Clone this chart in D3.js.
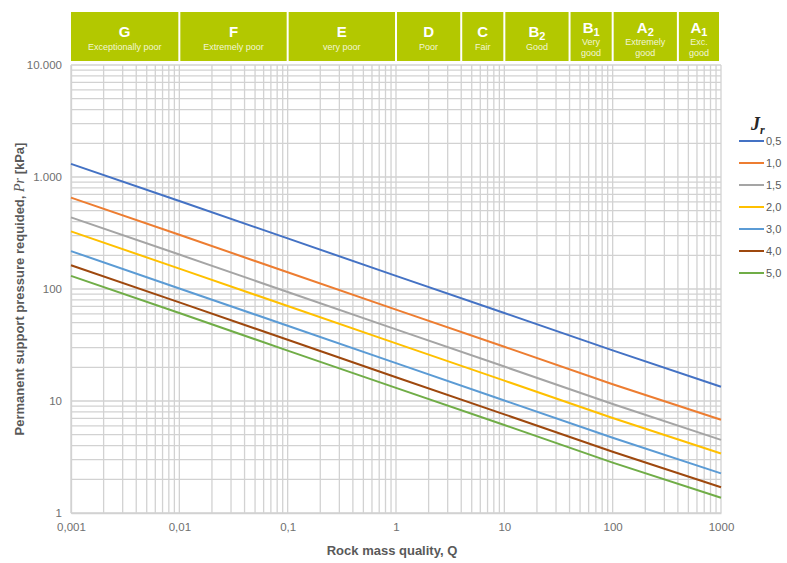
<!DOCTYPE html>
<html><head><meta charset="utf-8">
<script src="https://cdn.jsdelivr.net/npm/d3@7"></script>
<style>body{margin:0;background:#fff}svg{display:block;font-family:"Liberation Sans",Arial,sans-serif}</style>
</head><body><svg id="c" width="787" height="563"></svg>
<script>
// ---- data ----
const qPoints = [0.001, 0.01, 0.1, 1, 10, 100, 1000];
const jrLabels = ["0,5", "1,0", "1,5", "2,0", "3,0", "4,0", "5,0"];
const jr05 = [1310, 610, 283, 131, 61, 28.3, 13.4];
const jr10 = [655, 305, 141, 65.5, 30.5, 14.1, 6.8];
const jr15 = [436, 203, 94, 43.6, 20.3, 9.4, 4.5];
const jr20 = [327, 152, 70.5, 32.7, 15.2, 7.05, 3.4];
const jr30 = [218, 101, 47, 21.8, 10.1, 4.7, 2.26];
const jr40 = [163, 76, 35.2, 16.3, 7.6, 3.52, 1.7];
const jr50 = [131, 61, 28.2, 13.1, 6.1, 2.82, 1.37];
const seriesValues = [jr05, jr10, jr15, jr20, jr30, jr40, jr50];
const seriesColors = ["#4472c4", "#ed7d31", "#a5a5a5", "#ffc000", "#5b9bd5", "#9e480e", "#70ad47"];
const xTickValues = [0.001, 0.01, 0.1, 1, 10, 100, 1000];
const xTickLabels = ["0,001", "0,01", "0,1", "1", "10", "100", "1000"];
const yTickValues = [1, 10, 100, 1000, 10000];
const yTickLabels = ["1", "10", "100", "1.000", "10.000"];
const classBounds = [0.001, 0.01, 0.1, 1, 4, 10, 40, 100, 400, 1000];
const classLetters = ["G", "F", "E", "D", "C", "B", "B", "A", "A"];
const classSubs = ["", "", "", "", "", "2", "1", "2", "1"];
const classNames = [["Exceptionally poor"], ["Extremely poor"], ["very poor"], ["Poor"], ["Fair"], ["Good"], ["Very", "good"], ["Extremely", "good"], ["Exc.", "good"]];

// ---- layout ----
const svg = d3.select("#c");
const x = d3.scaleLog().domain([0.001, 1000]).range([71, 721]);
const y = d3.scaleLog().domain([1, 10000]).range([513, 65]);
const gridColor = "#d2d2d2";
const tickColor = "#6f6f6f";
const textColor = "#595959";

// grid
const g = svg.append("g");
const minorX = [];
for (let e = -3; e < 3; e++) for (let m = 1; m < 10; m++) minorX.push(m * Math.pow(10, e));
minorX.push(1000);
const minorY = [];
for (let e = 0; e < 4; e++) for (let m = 1; m < 10; m++) minorY.push(m * Math.pow(10, e));
minorY.push(10000);
g.selectAll("line.vx").data(minorX).join("line")
  .attr("x1", d => x(d)).attr("x2", d => x(d)).attr("y1", y(10000)).attr("y2", y(1))
  .attr("stroke", gridColor).attr("stroke-width", 1.3);
g.selectAll("line.hy").data(minorY).join("line")
  .attr("y1", d => y(d)).attr("y2", d => y(d)).attr("x1", x(0.001)).attr("x2", x(1000))
  .attr("stroke", gridColor).attr("stroke-width", 1.3);

// axes labels
const xAxis = d3.axisBottom(x).tickValues(xTickValues).tickSize(0).tickPadding(10)
  .tickFormat((d, i) => xTickLabels[i]);
const xg = svg.append("g").attr("transform", `translate(0,${y(1)})`).call(xAxis);
xg.select(".domain").attr("stroke", gridColor).attr("stroke-width", 1.3);
xg.selectAll("text").attr("fill", tickColor).attr("font-size", 11.5).attr("font-family", "Liberation Sans, Arial, sans-serif");
const yAxis = d3.axisLeft(y).tickValues(yTickValues).tickSize(0).tickPadding(9)
  .tickFormat((d, i) => yTickLabels[i]);
const yg = svg.append("g").attr("transform", `translate(${x(0.001)},0)`).call(yAxis);
yg.select(".domain").attr("stroke", gridColor).attr("stroke-width", 1.3);
yg.selectAll("text").attr("fill", tickColor).attr("font-size", 11.5).attr("font-family", "Liberation Sans, Arial, sans-serif");

// series lines
const line = d3.line().x((d, i) => x(qPoints[i])).y(d => y(d));
svg.append("g").selectAll("path").data(seriesValues).join("path")
  .attr("d", d => line(d)).attr("fill", "none")
  .attr("stroke", (d, i) => seriesColors[i]).attr("stroke-width", 2);

// class boxes
const boxes = svg.append("g");
for (let i = 0; i < classLetters.length; i++) {
  const x0 = x(classBounds[i]) + (i === 0 ? 0 : 1);
  const x1 = x(classBounds[i + 1]) - (i === classLetters.length - 1 ? 2 : 1);
  const cx = (x0 + x1) / 2;
  const names = classNames[i];
  const two = names.length > 1;
  boxes.append("rect").attr("x", x0).attr("y", 12).attr("width", x1 - x0).attr("height", 49)
    .attr("fill", "#b3c800");
  const t = boxes.append("text").attr("x", cx).attr("y", two ? 33 : 37).attr("text-anchor", "middle")
    .attr("fill", "#fff").attr("font-weight", "bold").attr("font-size", 15);
  t.append("tspan").text(classLetters[i]);
  if (classSubs[i]) t.append("tspan").attr("font-size", 11).attr("dy", 3).text(classSubs[i]);
  names.forEach((n, k) => {
    boxes.append("text").attr("x", cx).attr("y", (two ? 45 : 50) + k * 10.5).attr("text-anchor", "middle")
      .attr("fill", "#f2f6d6").attr("font-size", 9).text(n);
  });
}

// legend
const lt = svg.append("text").attr("x", 751).attr("y", 130)
  .attr("font-family", "Liberation Serif, Times New Roman, serif").attr("font-style", "italic")
  .attr("font-weight", "bold").attr("font-size", 18).attr("fill", "#262626");
lt.append("tspan").text("J");
lt.append("tspan").attr("font-size", 12).attr("dy", 4).text("r");
const leg = svg.append("g");
jrLabels.forEach((lab, i) => {
  const yy = 141 + i * 22;
  leg.append("line").attr("x1", 739).attr("x2", 764).attr("y1", yy).attr("y2", yy)
    .attr("stroke", seriesColors[i]).attr("stroke-width", 2);
  leg.append("text").attr("x", 766).attr("y", yy + 4).attr("fill", textColor)
    .attr("font-size", 11).text(lab);
});

// axis titles
svg.append("text").attr("x", 392).attr("y", 555).attr("text-anchor", "middle")
  .attr("fill", textColor).attr("font-weight", "bold").attr("font-size", 13)
  .text("Rock mass quality, Q");
const yt = svg.append("text").attr("transform", "translate(24,289) rotate(-90)")
  .attr("text-anchor", "middle").attr("fill", textColor).attr("font-weight", "bold").attr("font-size", 13);
yt.append("tspan").text("Permanent support pressure requided, ");
yt.append("tspan").attr("font-family", "Liberation Serif, Times New Roman, serif")
  .attr("font-style", "italic").attr("font-weight", "normal").attr("font-size", 14).text("Pr");
yt.append("tspan").text(" [kPa]");
</script></body></html>
